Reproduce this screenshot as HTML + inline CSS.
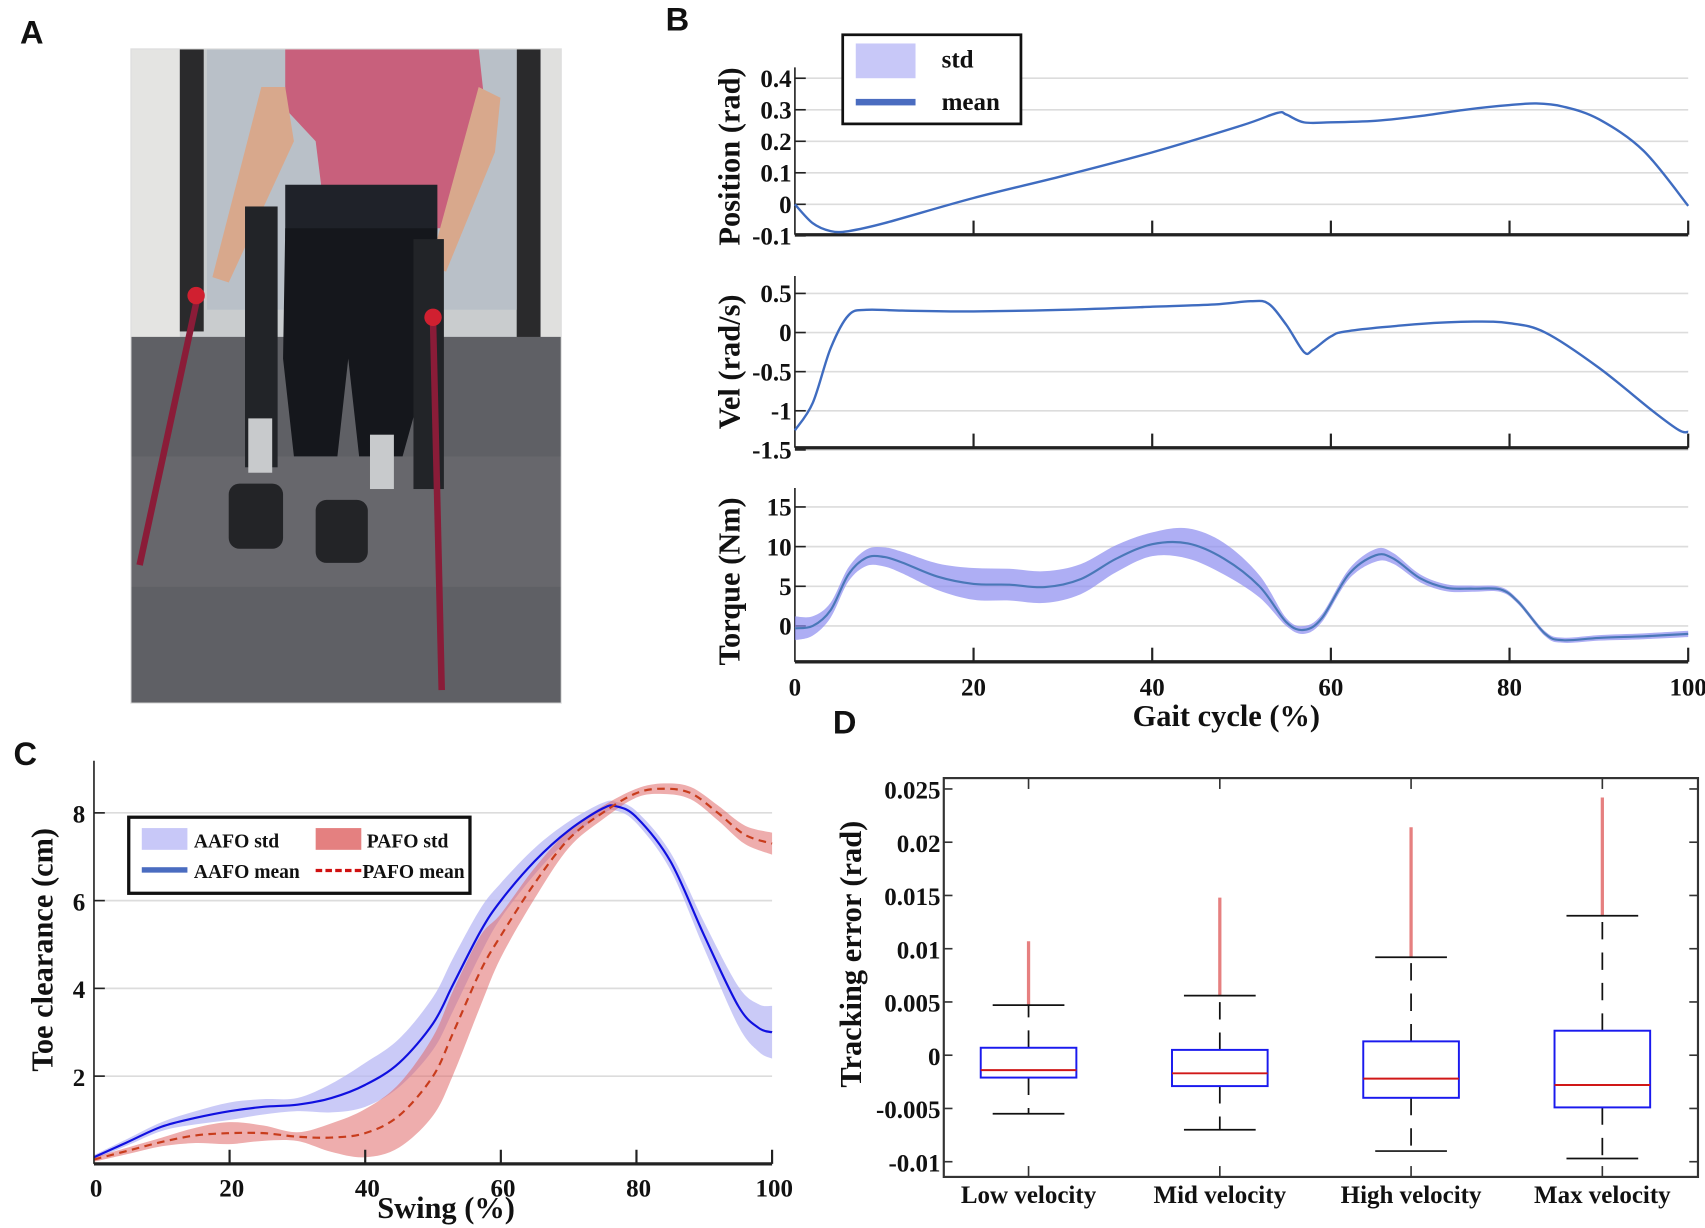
<!DOCTYPE html>
<html><head><meta charset="utf-8"><style>
html,body{margin:0;padding:0;background:#fff;}
svg{display:block;}
text{font-family:"Liberation Serif",serif;font-weight:bold;fill:#111;}
.lbl{font-family:"Liberation Sans",sans-serif;font-weight:bold;font-size:30px;}
.tick{font-size:23px;}
.ax{font-size:28px;}
</style></head><body>
<svg id="fig" width="1705" height="1228" viewBox="0 0 1568 1130" xmlns="http://www.w3.org/2000/svg">
<text class="lbl" x="18" y="40">A</text>
<text class="lbl" x="612" y="28">B</text>
<text class="lbl" x="12" y="704">C</text>
<text class="lbl" x="766" y="675">D</text>

<g>
<rect x="120" y="45" width="396" height="602" fill="#6a6b70"/>
<rect x="120" y="45" width="396" height="300" fill="#c9ccce"/>
<rect x="120" y="45" width="45" height="310" fill="#e4e4e2"/>
<rect x="165" y="45" width="22" height="260" fill="#2a2a2c"/>
<rect x="475" y="45" width="22" height="270" fill="#2a2a2c"/>
<rect x="497" y="45" width="19" height="300" fill="#e0e0de"/>
<rect x="190" y="45" width="285" height="240" fill="#b9c0c8"/>
<rect x="120" y="310" width="396" height="337" fill="#5f6065"/>
<rect x="120" y="420" width="396" height="120" fill="#6c6d72" opacity="0.6"/>
<path d="M262 45 L440 45 L446 100 L430 130 L420 210 L300 210 L290 130 L262 100 Z" fill="#c8607c"/>
<path d="M240 80 L262 80 L270 130 L210 260 L195 255 Z" fill="#d8a88c"/>
<path d="M440 80 L460 90 L455 140 L410 250 L395 245 Z" fill="#d8a88c"/>
<rect x="262" y="170" width="140" height="50" fill="#1f2229"/>
<path d="M262 210 L402 210 L395 330 L370 420 L330 420 L320 330 L310 420 L270 420 L260 330 Z" fill="#15171c"/>
<rect x="225" y="190" width="30" height="240" fill="#222428"/>
<rect x="380" y="220" width="28" height="230" fill="#222428"/>
<rect x="210" y="445" width="50" height="60" rx="10" fill="#232427"/>
<rect x="290" y="460" width="48" height="58" rx="10" fill="#232427"/>
<rect x="228" y="385" width="22" height="50" fill="#c8cacc"/>
<rect x="340" y="400" width="22" height="50" fill="#c8cacc"/>
<line x1="182" y1="270" x2="128" y2="520" stroke="#8a1c38" stroke-width="6"/>
<line x1="398" y1="295" x2="406" y2="635" stroke="#8a1c38" stroke-width="6"/>
<circle cx="180" cy="272" r="8" fill="#d02030"/>
<circle cx="398" cy="292" r="8" fill="#d02030"/>
<rect x="120" y="45" width="396" height="602" fill="none" stroke="#ddd" stroke-width="1"/>
</g>
<g id="pB"></g><g id="pC"></g><g id="pD"></g>
</svg>
<script>
// ---------- Panel B data ----------
const posX=[0,2,4,6,10,20,30,40,50,54,55,57,60,65,70,75,80,83,86,90,95,100];
const posY=[0,-0.06,-0.085,-0.085,-0.06,0.02,0.09,0.165,0.25,0.29,0.285,0.26,0.26,0.265,0.28,0.3,0.315,0.32,0.31,0.27,0.17,-0.005];
const velX=[0,2,4,6,8,12,20,30,40,47,51,53,55,57,58,60,62,70,76,80,84,90,96,99,100];
const velY=[-1.25,-0.9,-0.2,0.22,0.29,0.28,0.27,0.29,0.33,0.36,0.4,0.37,0.1,-0.25,-0.22,-0.05,0.02,0.11,0.14,0.12,0,-0.45,-1.0,-1.25,-1.27];
const torX=[0,2,4,6,8,10,12,16,20,24,28,32,36,40,44,48,52,55,57,59,62,65,67,70,73,76,79,81,84,86,90,95,100];
const torY=[-0.3,0,2,6.5,8.6,8.7,8,6.2,5.3,5.2,4.9,5.9,8.5,10.3,10.4,8.5,5,0.5,-0.5,1,6.5,8.9,8.5,6,4.8,4.7,4.6,3,-1,-1.8,-1.5,-1.3,-1];
const torSdX=[0,5,10,20,30,40,45,50,55,60,65,70,80,100];
const torSd=[1.5,0.8,1.2,2,2,1.5,2,2,0.5,0.5,0.8,0.5,0.3,0.4];
const gaitTicks=[0,20,40,60,80,100];
const posTicks=[0.4,0.3,0.2,0.1,0,-0.1];
const velTicks=[0.5,0,-0.5,-1,-1.5];
const torTicks=[15,10,5,0];
// ---------- Panel C data ----------
const swX=[0,5,10,15,20,25,30,35,40,45,50,53,57,60,65,70,75,77,80,85,90,95,98,100];
const aafoMean=[0.15,0.5,0.85,1.05,1.2,1.3,1.35,1.5,1.8,2.3,3.2,4.1,5.3,6.0,6.9,7.6,8.1,8.15,7.9,6.9,5.2,3.6,3.1,3.0];
const pafoX=[0,5,10,15,20,25,30,35,40,45,50,53,57,60,65,70,75,80,84,88,92,96,100];
const pafoMean=[0.1,0.3,0.5,0.65,0.7,0.7,0.62,0.6,0.7,1.1,2.0,3.0,4.4,5.2,6.4,7.4,8.0,8.45,8.55,8.45,8.0,7.5,7.3];
const sdX=[0,10,20,30,40,50,55,60,70,77,85,90,100];
const aafoSd=[0.05,0.1,0.2,0.15,0.5,0.6,0.6,0.4,0.2,0.1,0.2,0.3,0.6];
const pafoSdX=[0,10,20,30,40,50,55,60,70,80,90,100];
const pafoSd=[0.05,0.1,0.25,0.1,0.55,0.9,1.0,0.5,0.2,0.1,0.15,0.25];
const swTicks=[0,20,40,60,80,100];
const toeTicks=[8,6,4,2];
// ---------- Panel D data ----------
const cats=["Low velocity","Mid velocity","High velocity","Max velocity"];
const q1=[-0.0021,-0.0029,-0.0040,-0.0049];
const q3=[0.0007,0.0005,0.0013,0.0023];
const med=[-0.0014,-0.0017,-0.0022,-0.0028];
const wLo=[-0.0055,-0.0070,-0.0090,-0.0097];
const wHi=[0.0047,0.0056,0.0092,0.0131];
const outMax=[0.0107,0.0148,0.0214,0.0242];
const errTicks=[0.025,0.02,0.015,0.01,0.005,0,-0.005,-0.01];
const errLabels=["0.025","0.02","0.015","0.01","0.005","0","-0.005","-0.01"];

const NS="http://www.w3.org/2000/svg";
function mk(parent,tag,at,txt){const e=document.createElementNS(NS,tag);for(const k in at)e.setAttribute(k,at[k]);if(txt!==undefined)e.textContent=txt;parent.appendChild(e);return e;}
function lin(d0,d1,r0,r1){return v=>r0+(v-d0)/(d1-d0)*(r1-r0);}
function interp(xs,ys,x){for(let i=0;i<xs.length-1;i++){if(x<=xs[i+1]){const t=(x-xs[i])/(xs[i+1]-xs[i]);return ys[i]+t*(ys[i+1]-ys[i]);}}return ys[ys.length-1];}
function smooth(pts){let d="M"+pts[0][0].toFixed(1)+" "+pts[0][1].toFixed(1);for(let i=0;i<pts.length-1;i++){const p0=pts[Math.max(0,i-1)],p1=pts[i],p2=pts[i+1],p3=pts[Math.min(pts.length-1,i+2)];const c1=[p1[0]+(p2[0]-p0[0])/6,p1[1]+(p2[1]-p0[1])/6],c2=[p2[0]-(p3[0]-p1[0])/6,p2[1]-(p3[1]-p1[1])/6];d+=" C"+c1[0].toFixed(1)+" "+c1[1].toFixed(1)+" "+c2[0].toFixed(1)+" "+c2[1].toFixed(1)+" "+p2[0].toFixed(1)+" "+p2[1].toFixed(1);}return d;}
function bandPath(xs,ys,sdx,sd,sx,sy){const up=xs.map((x,i)=>[sx(x),sy(ys[i]+interp(sdx,sd,x))]);const lo=xs.map((x,i)=>[sx(x),sy(ys[i]-interp(sdx,sd,x))]).reverse();const a=smooth(up),b=smooth(lo);return a+" L"+b.slice(1)+" Z";}

// ----- Panel B -----
const pB=document.getElementById('pB');
const bx=lin(0,100,731,1553);
function subplot(name,ticks,sy,yTop,yBot,ytitle,tcy,fmt){
 const g=mk(pB,'g',{});
 
 
 ticks.forEach(t=>{const y=sy(t);
  const gl=mk(g,'line',{x1:731,x2:1553,y1:y,y2:y,stroke:'#dcdcdc','stroke-width':1.5});
  
  mk(g,'line',{x1:731,x2:741,y1:y,y2:y,stroke:'#222','stroke-width':1.5});
  const tl=mk(g,'text',{class:'tick',x:728,y:y+8,'text-anchor':'end'},fmt(t));
  });
 mk(g,'line',{x1:731,x2:731,y1:yTop,y2:yBot,stroke:'#222','stroke-width':1.5});
 mk(g,'line',{x1:731,x2:1553,y1:yBot,y2:yBot,stroke:'#222','stroke-width':3});
 [20,40,60,80,100].forEach(t=>mk(g,'line',{x1:bx(t),x2:bx(t),y1:yBot,y2:yBot-13,stroke:'#222','stroke-width':2}));
 const yt=mk(g,'text',{class:'ax',transform:`translate(${680},${tcy}) rotate(-90)`,'text-anchor':'middle'},ytitle);
 
 return g;}
const sPos=lin(0,0.4,188,72), sVel=lin(0,0.5,306,270), sTor=lin(0,10,576,503);
const gp=subplot('position',posTicks,sPos,62,216,'Position (rad)',144,t=>String(t));
const lp=mk(gp,'path',{d:smooth(posX.map((x,i)=>[bx(x),sPos(posY[i])])),fill:'none',stroke:'#3f6cc0','stroke-width':2.2});

const gv=subplot('velocity',velTicks,sVel,254,412,'Vel (rad/s)',333,t=>String(t));
const lv=mk(gv,'path',{d:smooth(velX.map((x,i)=>[bx(x),sVel(velY[i])])),fill:'none',stroke:'#3f6cc0','stroke-width':2.2});

const gt=subplot('torque',torTicks,sTor,449,609,'Torque (Nm)',535,t=>String(t));
const bt=mk(gt,'path',{d:bandPath(torX,torY,torSdX,torSd,bx,sTor),fill:'#8c8cf0','fill-opacity':0.7,stroke:'none'});

const lt=mk(gt,'path',{d:smooth(torX.map((x,i)=>[bx(x),sTor(torY[i])])),fill:'none',stroke:'#4a78b8','stroke-width':2});

gaitTicks.forEach(t=>{const e=mk(pB,'text',{class:'tick',x:bx(t),y:640,'text-anchor':'middle'},String(t));
 });
const xtB=mk(pB,'text',{class:'ax',x:1128,y:668,'text-anchor':'middle'},'Gait cycle (%)');

const legB=mk(pB,'g',{});

mk(legB,'rect',{x:775,y:32,width:164,height:82,fill:'#fff',stroke:'#111','stroke-width':2.5});
mk(legB,'rect',{x:787,y:40,width:55,height:32,fill:'#c8c8f8'});
mk(legB,'rect',{x:787,y:91,width:55,height:6,fill:'#4a6cc0'});
mk(legB,'text',{x:866,y:62,'font-size':23},'std');
mk(legB,'text',{x:866,y:101,'font-size':23},'mean');

// ----- Panel C -----
const pC=document.getElementById('pC');
const cx=lin(0,100,86,710), cy=lin(0,8,1071,748);
toeTicks.forEach(t=>{const y=cy(t);
 const gl=mk(pC,'line',{x1:86,x2:710,y1:y,y2:y,stroke:'#dcdcdc','stroke-width':1.5});
 
 mk(pC,'line',{x1:86,x2:96,y1:y,y2:y,stroke:'#222','stroke-width':1.5});
 const tl=mk(pC,'text',{class:'tick',x:78,y:y+9,'text-anchor':'end','font-size':26},String(t));
 });
const ba=mk(pC,'path',{d:bandPath(swX,aafoMean,sdX,aafoSd,cx,cy),fill:'#b4b4f4','fill-opacity':0.7});

const bp=mk(pC,'path',{d:bandPath(pafoX,pafoMean,pafoSdX,pafoSd,cx,cy),fill:'#e06a6a','fill-opacity':0.55});

const la=mk(pC,'path',{d:smooth(swX.map((x,i)=>[cx(x),cy(aafoMean[i])])),fill:'none',stroke:'#1010e0','stroke-width':2});

const lpf=mk(pC,'path',{d:smooth(pafoX.map((x,i)=>[cx(x),cy(pafoMean[i])])),fill:'none',stroke:'#c83c1c','stroke-width':2,'stroke-dasharray':'7,5'});

mk(pC,'line',{x1:86,x2:86,y1:700,y2:1071,stroke:'#222','stroke-width':1.5});
mk(pC,'line',{x1:86,x2:710,y1:1071,y2:1071,stroke:'#222','stroke-width':3});
[20,40,60,80,100].forEach(t=>mk(pC,'line',{x1:cx(t),x2:cx(t),y1:1071,y2:1058,stroke:'#222','stroke-width':2}));
swTicks.forEach(t=>{const e=mk(pC,'text',{class:'tick',x:cx(t)+2,y:1101,'text-anchor':'middle','font-size':26},String(t));
 });
const xtC=mk(pC,'text',{class:'ax',x:410,y:1121,'text-anchor':'middle'},'Swing (%)');

const ytC=mk(pC,'text',{class:'ax',transform:'translate(48,874) rotate(-90)','text-anchor':'middle','font-size':30},'Toe clearance (cm)');

const legC=mk(pC,'g',{});

mk(legC,'rect',{x:118,y:752,width:314,height:70,fill:'#fff',stroke:'#111','stroke-width':3});
mk(legC,'rect',{x:130,y:762,width:42,height:20,fill:'#c8c8f8'});
mk(legC,'rect',{x:290,y:762,width:42,height:20,fill:'#e48080'});
mk(legC,'rect',{x:130,y:798,width:42,height:5,fill:'#4a6cc0'});
mk(legC,'line',{x1:290,x2:332,y1:801,y2:801,stroke:'#d01010','stroke-width':3,'stroke-dasharray':'6,3'});
mk(legC,'text',{x:178,y:780,'font-size':18},'AAFO std');
mk(legC,'text',{x:337,y:780,'font-size':18},'PAFO std');
mk(legC,'text',{x:178,y:808,'font-size':18},'AAFO mean');
mk(legC,'text',{x:333,y:808,'font-size':18},'PAFO mean');

// ----- Panel D -----
const pD=document.getElementById('pD');
const dy=lin(0,0.005,971,922);
const dxs=[946,1122,1297,1474];
const dxc=i=>dxs[0]+i*(dxs[3]-dxs[0])/3;
mk(pD,'rect',{x:868,y:716,width:694,height:367,fill:'none',stroke:'#333','stroke-width':2});
errTicks.forEach((t,i)=>{const y=dy(t);
 mk(pD,'line',{x1:868,x2:876,y1:y,y2:y,stroke:'#333','stroke-width':1.5});
 mk(pD,'line',{x1:1554,x2:1562,y1:y,y2:y,stroke:'#333','stroke-width':1.5});
 const tl=mk(pD,'text',{class:'tick',x:865,y:y+9,'text-anchor':'end','font-size':26},errLabels[i]);
 });
cats.forEach((c,i)=>{const x=dxc(i);
 mk(pD,'line',{x1:x,x2:x,y1:716,y2:726,stroke:'#333','stroke-width':1.5});
 mk(pD,'line',{x1:x,x2:x,y1:1083,y2:1073,stroke:'#333','stroke-width':1.5});
 const g=mk(pD,'g',{});
 
 
 mk(g,'line',{x1:x,x2:x,y1:dy(wHi[i]),y2:dy(outMax[i]),stroke:'#e06060','stroke-width':3,'stroke-opacity':0.8});
 mk(g,'line',{x1:x,x2:x,y1:dy(q3[i]),y2:dy(wHi[i]),stroke:'#111','stroke-width':1.6,'stroke-dasharray':'16,12'});
 mk(g,'line',{x1:x,x2:x,y1:dy(q1[i]),y2:dy(wLo[i]),stroke:'#111','stroke-width':1.6,'stroke-dasharray':'16,12'});
 mk(g,'line',{x1:x-33,x2:x+33,y1:dy(wHi[i]),y2:dy(wHi[i]),stroke:'#111','stroke-width':1.6});
 mk(g,'line',{x1:x-33,x2:x+33,y1:dy(wLo[i]),y2:dy(wLo[i]),stroke:'#111','stroke-width':1.6});
 mk(g,'rect',{x:x-44,y:dy(q3[i]),width:88,height:dy(q1[i])-dy(q3[i]),fill:'#fff',stroke:'#1a1aee','stroke-width':1.8});
 mk(g,'line',{x1:x-44,x2:x+44,y1:dy(med[i]),y2:dy(med[i]),stroke:'#d01818','stroke-width':1.8});
 const tl=mk(pD,'text',{class:'tick',x:x,y:1107,'text-anchor':'middle','font-size':28},c);
 });
const ytD=mk(pD,'text',{class:'ax',transform:'translate(792,878) rotate(-90)','text-anchor':'middle'},'Tracking error (rad)');

</script>
</body></html>
